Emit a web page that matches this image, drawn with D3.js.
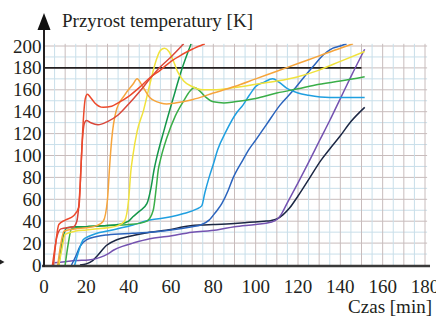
<!DOCTYPE html>
<html><head><meta charset="utf-8">
<script src="https://cdn.jsdelivr.net/npm/d3@7"></script>
<style>html,body{margin:0;padding:0;background:#fff;}svg{display:block;}
text{font-family:"Liberation Serif","DejaVu Serif","Times New Roman",Times,serif;}</style>
</head><body><svg id="c" width="436" height="320"></svg>
<script>
const xTicks = [0,20,40,60,80,100,120,140,160,180];
const yTicks = [0,20,40,60,80,100,120,140,160,180,200];
const yTitle = "Przyrost temperatury [K]";
const xTitle = "Czas [min]";
const limitValue = 180;
const limitEnd = 150;

const redA_t = [4,5.5,7,10,14,16.5,17.5,18.5,19.5,20.5,22,24,28,32,35,40,45,50,55,60,65,70,76];
const redA_v = [0,20,37,41,45,53,90,130,152,156,153,148,144,145,148,154,162,171,178,186,192,197,202];
const redB_t = [4.5,6,8,14,15.5,17,18,19,20,22,25.5,30,35,40,45,50,55,60,66];
const redB_v = [0,25,33,35,40,70,110,129,132,130,128,131,137,147,158,170,181,190,202];
const orange_t = [6.5,8,9.5,15,20,25,28,30,31,32,34,38,42,44,46,50,55,58,62,70,80,90,100,110,120,130,140,146];
const orange_v = [0,20,31,33,34,36,40,60,90,115,140,155,165,170,165,153,148,147,148,151,157,163,170,177,184,191,198,202];
const yellow_t = [7,8.5,10,15,20,25,30,35,38,40,41,42,44,47,50,53,55,57,59,61,63,66,70,75,80,90,100,110,120,130,140,151.5];
const yellow_v = [0,15,28,31,32,33,34,36,40,60,85,100,122,141,165,187,196,198,195,187,177,168,163,160,160,162,165,168,172,178,186,195];
const green1_t = [7,9,10.8,15,20,30,35,40,42,45,48.6,50.5,52,53,57,61,65,69.5];
const green1_v = [0,25,34,35,35,36,37,40,44,49,56,70,87,96,125,152,178,202];
const green2_t = [10,11.5,13,20,30,40,45,48.6,51.6,53,54,55,58,62,66,69,71,73,76,80,85,90,100,110,120,130,140,151.5];
const green2_v = [0,20,33,35,36,37,38,40,50,70,87,96,116,136,150,159,162,160,154,149,148,149,152,157,161,165,168,172];
const lblue_t = [14.5,16,18.5,21,25,30,42,50,60,66,72,74.5,76,78,80,82,86,91,94,97,100,104,108,111,115,120,125,135,151.5];
const lblue_v = [0,10,23,26,29,31,36.5,41,44,47,51,54,66,80,92,105,122,139,146,155,163,167,170,167,161,157,155,153,153];
const blue_t = [13,15,17,20,25,30,42,50,60,70,74,78,81,84,87,89,94,97,100,105,111.5,118,123,127,131,136.5,140,143];
const blue_v = [0,8,17,23,26,27.5,29,30,32,35,36.5,41,48,56,68,78,96,106,114,128,146,160,172,181,190,198,200,202];
const navy_t = [17,20,23,25,29.6,34.4,40,50,60,66,74,80,90,97,104,107,110,113,116,120,125,131,135,140,145,151.5];
const navy_v = [0,1,4,8,18,23,26,30,32.5,35,36.5,37,38,39,40,40.5,42,46,52,63,78,96,106,118,131,144];
const purple_t = [5,10,15,21,26.5,30,33,37,42,50,58,70,81.6,90,100,107,110,112,115,120,125.6,130,135,140,145,151.5];
const purple_v = [2,3,4,4.6,7,10,13.7,17,20,24,26,30,32,35,37,39,41.5,46,57,75,96,113,132,152,172,197];

const seriesList = [
  {name:"navy", t:navy_t, v:navy_v, color:"#1c2744"},
  {name:"purple", t:purple_t, v:purple_v, color:"#7452b0"},
  {name:"blue", t:blue_t, v:blue_v, color:"#2b64bd"},
  {name:"lblue", t:lblue_t, v:lblue_v, color:"#1f9fe0"},
  {name:"green2", t:green2_t, v:green2_v, color:"#3aae48"},
  {name:"green1", t:green1_t, v:green1_v, color:"#14974a"},
  {name:"yellow", t:yellow_t, v:yellow_v, color:"#f0e23c"},
  {name:"orange", t:orange_t, v:orange_v, color:"#f6a53c"},
  {name:"redB", t:redB_t, v:redB_v, color:"#d9473a"},
  {name:"redA", t:redA_t, v:redA_v, color:"#ec4a2c"}
];

const svg = d3.select("#c");
const x = d3.scaleLinear().domain([0,180]).range([44,425]);
const y = d3.scaleLinear().domain([0,200]).range([265,46]);

// grid
const g = svg.append("g");
d3.range(10,205,10).forEach(v=>{
  g.append("line").attr("x1",x(0)).attr("x2",x(181)).attr("y1",y(v)).attr("y2",y(v))
   .attr("stroke", v%20===0 ? "#c8bcbc" : "#c9dfea").attr("stroke-width",1);
});
d3.range(5,185,5).forEach(v=>{
  g.append("line").attr("y1",y(0)).attr("y2",y(202)).attr("x1",x(v)).attr("x2",x(v))
   .attr("stroke", v%10===0 ? "#c8bcbc" : "#c9dfea").attr("stroke-width",1);
});

// 180 limit line
svg.append("line").attr("x1",x(0)).attr("x2",x(limitEnd)).attr("y1",y(limitValue)).attr("y2",y(limitValue))
  .attr("stroke","#231f20").attr("stroke-width",1.6);

svg.append("clipPath").attr("id","clip").append("rect")
  .attr("x",x(0)).attr("y",y(202)).attr("width",x(181)-x(0)).attr("height",y(-5)-y(202));

const line = d3.line().x(d=>x(d[0])).y(d=>y(d[1])).curve(d3.curveMonotoneX);
const lg = svg.append("g").attr("clip-path","url(#clip)");
seriesList.forEach(s=>{
  const pts = s.t.map((t,i)=>[t,s.v[i]]);
  lg.append("path").attr("d",line(pts)).attr("fill","none")
    .attr("stroke",s.color).attr("stroke-width",1.5).attr("stroke-linejoin","round");
});

// axes
svg.append("line").attr("x1",42).attr("x2",430).attr("y1",y(0)+1).attr("y2",y(0)+1)
  .attr("stroke","#3a3a3a").attr("stroke-width",2.6);
svg.append("line").attr("x1",x(0)).attr("x2",x(0)).attr("y1",y(0)+2).attr("y2",28)
  .attr("stroke","#231f20").attr("stroke-width",2);
svg.append("path").attr("d",`M${x(0)-6.5},30 L${x(0)},13 L${x(0)+6.5},30 Z`).attr("fill","#111");
svg.append("path").attr("d","M0,259.5 L4.5,262 L0,264.5 Z").attr("fill","#222");

// tick labels
svg.append("g").selectAll("text").data(yTicks).join("text")
  .attr("x",41.5).attr("y",d=>y(d)+6.5).attr("text-anchor","end")
  .attr("font-size",19).attr("fill","#231f20").text(d=>d);
svg.append("g").selectAll("text").data(xTicks).join("text")
  .attr("x",d=>x(d)).attr("y",293).attr("text-anchor","middle")
  .attr("font-size",19).attr("fill","#231f20").text(d=>d);

svg.append("text").attr("x",62).attr("y",27).attr("font-size",19)
  .attr("fill","#231f20").text(yTitle);
svg.append("text").attr("x",432).attr("y",313).attr("text-anchor","end")
  .attr("font-size",19).attr("fill","#231f20").text(xTitle);
</script></body></html>
